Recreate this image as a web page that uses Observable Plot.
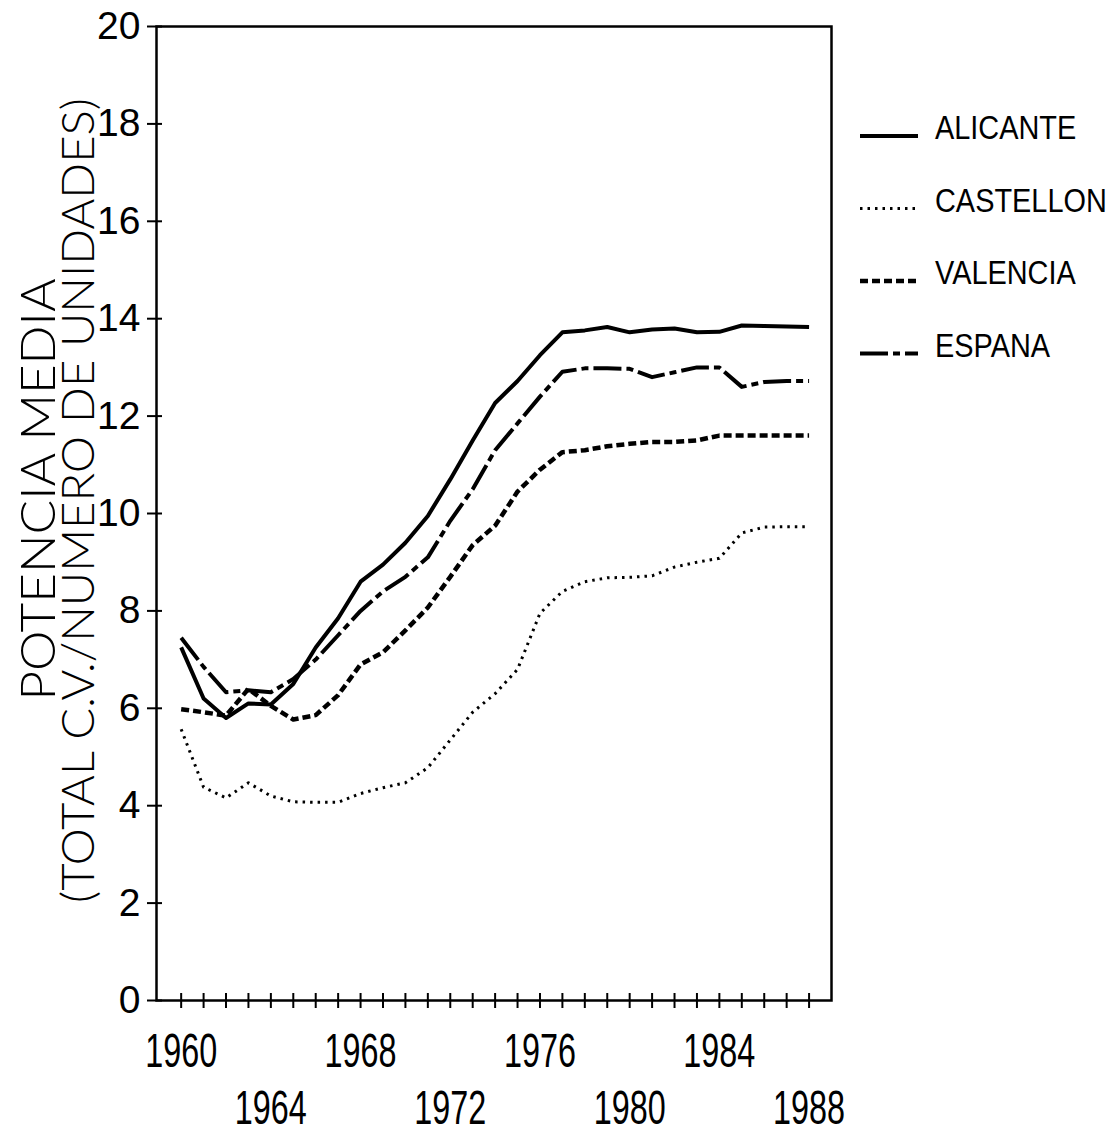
<!DOCTYPE html>
<html><head><meta charset="utf-8">
<script src="https://cdn.jsdelivr.net/npm/d3@7"></script>
<script src="https://cdn.jsdelivr.net/npm/@observablehq/plot@0.6"></script>
<style>html,body{margin:0;padding:0;background:#fff;} #chart{position:relative;width:1115px;height:1137px;}</style>
</head><body><div id="chart"></div>
<script>
// ---- data ----
const years = [1960,1961,1962,1963,1964,1965,1966,1967,1968,1969,1970,1971,1972,1973,1974,1975,1976,1977,1978,1979,1980,1981,1982,1983,1984,1985,1986,1987,1988];
const seriesNames = ["ALICANTE","CASTELLON","VALENCIA","ESPANA"];
const alicante  = [7.25,6.2,5.8,6.1,6.08,6.5,7.25,7.85,8.6,8.95,9.4,9.95,10.7,11.5,12.27,12.72,13.25,13.72,13.76,13.83,13.72,13.78,13.8,13.72,13.73,13.86,13.85,13.84,13.83];
const castellon = [5.57,4.38,4.16,4.47,4.2,4.08,4.07,4.07,4.25,4.37,4.47,4.78,5.35,5.92,6.3,6.8,7.95,8.4,8.6,8.68,8.69,8.72,8.9,9.0,9.08,9.6,9.72,9.73,9.73];
const valencia  = [5.98,5.92,5.85,6.4,6.05,5.77,5.86,6.27,6.9,7.15,7.6,8.07,8.7,9.35,9.75,10.45,10.9,11.26,11.3,11.38,11.43,11.47,11.47,11.5,11.6,11.6,11.6,11.6,11.6];
const espana    = [7.45,6.85,6.33,6.37,6.33,6.6,7.0,7.5,8.0,8.4,8.7,9.1,9.85,10.5,11.3,11.85,12.4,12.91,12.98,12.98,12.97,12.8,12.9,13.0,13.0,12.6,12.7,12.72,12.72];
const xLabelsRow1 = [1960,1968,1976,1984];
const xLabelsRow2 = [1964,1972,1980,1988];
const yTicks = [0,2,4,6,8,10,12,14,16,18,20];
const yTitle = ["POTENCIA MEDIA","(TOTAL C.V./NUMERO DE UNIDADES)"];

// ---- layout / styles ----
const W = 1115, H = 1137, mL = 156, mR = 284, mT = 26, mB = 137;
const plotW = W - mL - mR, plotH = H - mT - mB;
const seriesValues = [alicante, castellon, valencia, espana];
const styleBySeries = {
  ALICANTE:  {strokeWidth: 4},
  CASTELLON: {strokeWidth: 3, strokeDasharray: "2.5,5"},
  VALENCIA:  {strokeWidth: 4.5, strokeDasharray: "8,4"},
  ESPANA:    {strokeWidth: 4, strokeDasharray: "28,5,7,5"}
};
const tables = seriesNames.map((name, i) => years.map((year, j) => ({series: name, year, value: seriesValues[i][j]})));
const font = "'Liberation Sans', Arial, sans-serif";
const titleFont = "Lato, 'Liberation Sans', sans-serif";

const chart = Plot.plot({
  width: W, height: H,
  marginLeft: mL, marginRight: mR, marginTop: mT, marginBottom: mB,
  x: {domain: [1958.9, 1989], axis: null},
  y: {domain: [0, 20], axis: null},
  style: {background: "white", fontFamily: font, color: "#000"},
  marks: [
    Plot.frame({stroke: "#000", strokeWidth: 2.5}),
    Plot.ruleX(years, {x: d => d, stroke: "#000", strokeWidth: 2, insetTop: plotH - 7, insetBottom: -8}),
    Plot.ruleY(yTicks, {y: d => d, stroke: "#000", strokeWidth: 2, insetLeft: -9, insetRight: plotW - 6}),
    ...tables.map((rows, i) => Plot.line(rows, {
      x: "year", y: "value", stroke: "#000", strokeLinejoin: "round", strokeLinecap: "butt",
      ...styleBySeries[seriesNames[i]]
    })),
    Plot.text(yTicks, {y: d => d, text: d => String(d), frameAnchor: "left", dx: -16, textAnchor: "end", lineAnchor: "middle", fontSize: 39, fill: "#000"}),
    Plot.text(xLabelsRow1, {x: d => d, text: d => String(d), frameAnchor: "bottom", dy: 51, lineAnchor: "middle", fontSize: 49, fill: "#000", ariaLabel: () => "xlab"}),
    Plot.text(xLabelsRow2, {x: d => d, text: d => String(d), frameAnchor: "bottom", dy: 108, lineAnchor: "middle", fontSize: 49, fill: "#000", ariaLabel: () => "xlab"}),
    Plot.text([yTitle[0]], {text: d => d, frameAnchor: "left", dx: -117, dy: -24, rotate: -90, textAnchor: "middle", lineAnchor: "middle", fontSize: 47, fontWeight: 300, fontFamily: titleFont, fill: "#000", ariaLabel: () => "ytitle1"}),
    Plot.text([yTitle[1]], {text: d => d, frameAnchor: "left", dx: -77, dy: -13, rotate: -90, textAnchor: "middle", lineAnchor: "middle", fontSize: 45, fontWeight: 300, fontFamily: titleFont, fill: "#000", ariaLabel: () => "ytitle2"})
  ]
});
document.getElementById("chart").appendChild(chart);

function fitLength(label, len) {
  chart.querySelectorAll(`[aria-label="${label}"]`).forEach(el => {
    const nodes = el.tagName.toLowerCase() === "text" ? [el] : Array.from(el.querySelectorAll("text"));
    nodes.forEach(t => { t.setAttribute("textLength", len); t.setAttribute("lengthAdjust", "spacingAndGlyphs"); });
  });
}
fitLength("xlab", 72);
fitLength("ytitle1", 422);
fitLength("ytitle2", 805);

// legend (right side)
const lg = d3.select(chart).append("g").attr("aria-label", "legend").attr("text-anchor", "start");
seriesNames.forEach((name, i) => {
  const st = styleBySeries[name];
  const base = 139 + i * 72.5;
  lg.append("line")
    .attr("x1", 860).attr("x2", 918).attr("y1", base - 3).attr("y2", base - 3)
    .attr("stroke", "#000").attr("stroke-width", st.strokeWidth)
    .attr("stroke-dasharray", st.strokeDasharray || null);
  lg.append("text")
    .attr("text-anchor", "start")
    .attr("transform", `translate(935,${base}) scale(0.85,1)`)
    .attr("font-family", font).attr("font-size", 34).attr("fill", "#000")
    .text(name);
});
</script>
</body></html>
